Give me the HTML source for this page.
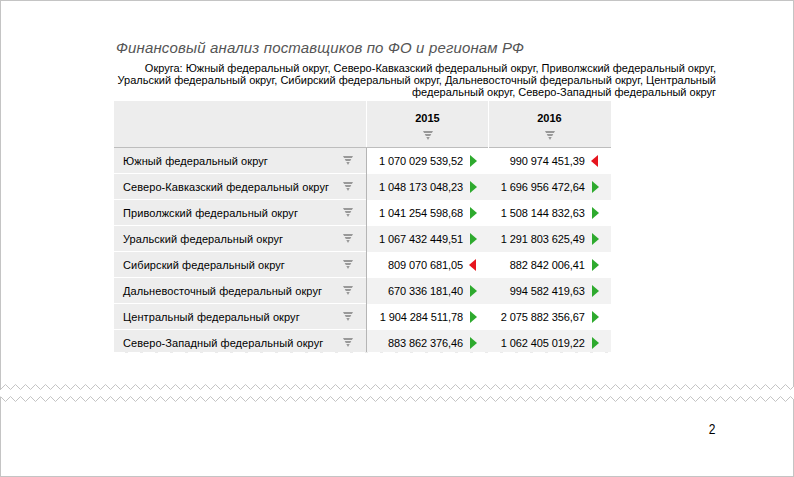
<!DOCTYPE html>
<html><head><meta charset="utf-8">
<style>
*{margin:0;padding:0;box-sizing:border-box}
html,body{width:794px;height:477px;overflow:hidden;background:#fff}
body{position:relative;font-family:"Liberation Sans",sans-serif;color:#000}
.a{position:absolute}
.title{left:116px;top:38.5px;font-size:15px;font-style:italic;color:#555;white-space:nowrap;line-height:17px;letter-spacing:0.15px}
.sub{right:78px;top:62px;font-size:11px;line-height:12px;text-align:right;color:#000;white-space:nowrap}
.tbl{left:114px;top:101px;width:497px;height:251px;overflow:hidden}
.rt{left:9px;font-size:11px;line-height:13px;white-space:nowrap;color:#000;letter-spacing:0.08px}
.num{font-size:11px;line-height:13px;white-space:nowrap;text-align:right;color:#000;letter-spacing:-0.1px}
.yr{font-size:11px;font-weight:bold;line-height:13px;text-align:center;width:121px}
</style></head><body>
<div class="a" style="left:0;top:0;width:794px;height:1px;background:#c4c4c4"></div>
<div class="a" style="left:0;top:476px;width:794px;height:1px;background:#c4c4c4"></div>
<div class="a" style="left:0;top:0;width:1px;height:390px;background:#c4c4c4"></div>
<div class="a" style="left:0;top:397px;width:1px;height:80px;background:#c4c4c4"></div>
<div class="a" style="left:793px;top:0;width:1px;height:387px;background:#c4c4c4"></div>
<div class="a" style="left:793px;top:399px;width:1px;height:78px;background:#c4c4c4"></div>
<svg class="a" style="left:0;top:0" width="794" height="477" viewBox="0 0 794 477">
<polyline fill="none" stroke="#c4c4c4" stroke-width="1" points="0.5,389.5 5.5,384.5 10.5,389.5 15.5,384.5 20.5,389.5 25.5,384.5 30.5,389.5 35.5,384.5 40.5,389.5 45.5,384.5 50.5,389.5 55.5,384.5 60.5,389.5 65.5,384.5 70.5,389.5 75.5,384.5 80.5,389.5 85.5,384.5 90.5,389.5 95.5,384.5 100.5,389.5 105.5,384.5 110.5,389.5 115.5,384.5 120.5,389.5 125.5,384.5 130.5,389.5 135.5,384.5 140.5,389.5 145.5,384.5 150.5,389.5 155.5,384.5 160.5,389.5 165.5,384.5 170.5,389.5 175.5,384.5 180.5,389.5 185.5,384.5 190.5,389.5 195.5,384.5 200.5,389.5 205.5,384.5 210.5,389.5 215.5,384.5 220.5,389.5 225.5,384.5 230.5,389.5 235.5,384.5 240.5,389.5 245.5,384.5 250.5,389.5 255.5,384.5 260.5,389.5 265.5,384.5 270.5,389.5 275.5,384.5 280.5,389.5 285.5,384.5 290.5,389.5 295.5,384.5 300.5,389.5 305.5,384.5 310.5,389.5 315.5,384.5 320.5,389.5 325.5,384.5 330.5,389.5 335.5,384.5 340.5,389.5 345.5,384.5 350.5,389.5 355.5,384.5 360.5,389.5 365.5,384.5 370.5,389.5 375.5,384.5 380.5,389.5 385.5,384.5 390.5,389.5 395.5,384.5 400.5,389.5 405.5,384.5 410.5,389.5 415.5,384.5 420.5,389.5 425.5,384.5 430.5,389.5 435.5,384.5 440.5,389.5 445.5,384.5 450.5,389.5 455.5,384.5 460.5,389.5 465.5,384.5 470.5,389.5 475.5,384.5 480.5,389.5 485.5,384.5 490.5,389.5 495.5,384.5 500.5,389.5 505.5,384.5 510.5,389.5 515.5,384.5 520.5,389.5 525.5,384.5 530.5,389.5 535.5,384.5 540.5,389.5 545.5,384.5 550.5,389.5 555.5,384.5 560.5,389.5 565.5,384.5 570.5,389.5 575.5,384.5 580.5,389.5 585.5,384.5 590.5,389.5 595.5,384.5 600.5,389.5 605.5,384.5 610.5,389.5 615.5,384.5 620.5,389.5 625.5,384.5 630.5,389.5 635.5,384.5 640.5,389.5 645.5,384.5 650.5,389.5 655.5,384.5 660.5,389.5 665.5,384.5 670.5,389.5 675.5,384.5 680.5,389.5 685.5,384.5 690.5,389.5 695.5,384.5 700.5,389.5 705.5,384.5 710.5,389.5 715.5,384.5 720.5,389.5 725.5,384.5 730.5,389.5 735.5,384.5 740.5,389.5 745.5,384.5 750.5,389.5 755.5,384.5 760.5,389.5 765.5,384.5 770.5,389.5 775.5,384.5 780.5,389.5 785.5,384.5 790.5,389.5 795.5,384.5 800.5,389.5"/>
<polyline fill="none" stroke="#c4c4c4" stroke-width="1" points="0.5,396.5 5.5,401.5 10.5,396.5 15.5,401.5 20.5,396.5 25.5,401.5 30.5,396.5 35.5,401.5 40.5,396.5 45.5,401.5 50.5,396.5 55.5,401.5 60.5,396.5 65.5,401.5 70.5,396.5 75.5,401.5 80.5,396.5 85.5,401.5 90.5,396.5 95.5,401.5 100.5,396.5 105.5,401.5 110.5,396.5 115.5,401.5 120.5,396.5 125.5,401.5 130.5,396.5 135.5,401.5 140.5,396.5 145.5,401.5 150.5,396.5 155.5,401.5 160.5,396.5 165.5,401.5 170.5,396.5 175.5,401.5 180.5,396.5 185.5,401.5 190.5,396.5 195.5,401.5 200.5,396.5 205.5,401.5 210.5,396.5 215.5,401.5 220.5,396.5 225.5,401.5 230.5,396.5 235.5,401.5 240.5,396.5 245.5,401.5 250.5,396.5 255.5,401.5 260.5,396.5 265.5,401.5 270.5,396.5 275.5,401.5 280.5,396.5 285.5,401.5 290.5,396.5 295.5,401.5 300.5,396.5 305.5,401.5 310.5,396.5 315.5,401.5 320.5,396.5 325.5,401.5 330.5,396.5 335.5,401.5 340.5,396.5 345.5,401.5 350.5,396.5 355.5,401.5 360.5,396.5 365.5,401.5 370.5,396.5 375.5,401.5 380.5,396.5 385.5,401.5 390.5,396.5 395.5,401.5 400.5,396.5 405.5,401.5 410.5,396.5 415.5,401.5 420.5,396.5 425.5,401.5 430.5,396.5 435.5,401.5 440.5,396.5 445.5,401.5 450.5,396.5 455.5,401.5 460.5,396.5 465.5,401.5 470.5,396.5 475.5,401.5 480.5,396.5 485.5,401.5 490.5,396.5 495.5,401.5 500.5,396.5 505.5,401.5 510.5,396.5 515.5,401.5 520.5,396.5 525.5,401.5 530.5,396.5 535.5,401.5 540.5,396.5 545.5,401.5 550.5,396.5 555.5,401.5 560.5,396.5 565.5,401.5 570.5,396.5 575.5,401.5 580.5,396.5 585.5,401.5 590.5,396.5 595.5,401.5 600.5,396.5 605.5,401.5 610.5,396.5 615.5,401.5 620.5,396.5 625.5,401.5 630.5,396.5 635.5,401.5 640.5,396.5 645.5,401.5 650.5,396.5 655.5,401.5 660.5,396.5 665.5,401.5 670.5,396.5 675.5,401.5 680.5,396.5 685.5,401.5 690.5,396.5 695.5,401.5 700.5,396.5 705.5,401.5 710.5,396.5 715.5,401.5 720.5,396.5 725.5,401.5 730.5,396.5 735.5,401.5 740.5,396.5 745.5,401.5 750.5,396.5 755.5,401.5 760.5,396.5 765.5,401.5 770.5,396.5 775.5,401.5 780.5,396.5 785.5,401.5 790.5,396.5 795.5,401.5 800.5,396.5"/>
</svg>
<div class="a title">Финансовый анализ поставщиков по ФО и регионам РФ</div>
<div class="a sub">Округа: Южный федеральный округ, Северо-Кавказский федеральный округ, Приволжский федеральный округ,<br>Уральский федеральный округ, Сибирский федеральный округ, Дальневосточный федеральный округ, Центральный<br>федеральный округ, Северо-Западный федеральный округ</div>
<div class="a tbl">
<div class="a" style="left:0;top:0;width:497px;height:46px;background:#ededed"></div>
<div class="a" style="left:0;top:46px;width:497px;height:1px;background:#bdbdbd"></div>
<div class="a" style="left:252px;top:0;width:1px;height:46px;background:#fff"></div>
<div class="a" style="left:374px;top:0;width:1px;height:47px;background:#fff"></div>
<div class="a yr" style="left:253px;top:11px">2015</div>
<div class="a yr" style="left:375px;top:11px">2016</div>
<svg class="a" style="left:309px;top:30px" width="10" height="9" viewBox="0 0 10 9"><path fill="#999999" d="M0 0H10L8.9 2H1.1Z M1.7 3H8.3L7.2 5H2.8Z M3.3 6H6.7L5 9Z"/></svg>
<svg class="a" style="left:431px;top:30px" width="10" height="9" viewBox="0 0 10 9"><path fill="#999999" d="M0 0H10L8.9 2H1.1Z M1.7 3H8.3L7.2 5H2.8Z M3.3 6H6.7L5 9Z"/></svg>
<div class="a" style="left:0;top:47px;width:252px;height:210px;background:#ededed"></div>
<div class="a" style="left:252px;top:47px;width:1px;height:210px;background:#b5b5b5"></div>

<div class="a rt" style="top:54px">Южный федеральный округ</div>
<svg class="a" style="left:229px;top:55px" width="10" height="9" viewBox="0 0 10 9"><path fill="#999999" d="M0 0H10L8.9 2H1.1Z M1.7 3H8.3L7.2 5H2.8Z M3.3 6H6.7L5 9Z"/></svg>
<div class="a num" style="right:148px;top:54px">1 070 029 539,52</div>
<svg class="a" style="left:355px;top:54px" width="8" height="12" viewBox="0 0 8 12"><path fill="#2eaa2e" d="M1 0L8 6L1 12Z"/></svg>
<div class="a num" style="right:26.3px;top:54px">990 974 451,39</div>
<svg class="a" style="left:477px;top:54px" width="8" height="12" viewBox="0 0 8 12"><path fill="#e6151e" d="M7 0L0 6L7 12Z"/></svg>
<div class="a" style="left:253px;top:73px;width:244px;height:26px;background:#f2f2f2"></div>
<div class="a" style="left:0;top:72px;width:252px;height:1px;background:#fff"></div>
<div class="a rt" style="top:80px">Северо-Кавказский федеральный округ</div>
<svg class="a" style="left:229px;top:81px" width="10" height="9" viewBox="0 0 10 9"><path fill="#999999" d="M0 0H10L8.9 2H1.1Z M1.7 3H8.3L7.2 5H2.8Z M3.3 6H6.7L5 9Z"/></svg>
<div class="a num" style="right:148px;top:80px">1 048 173 048,23</div>
<svg class="a" style="left:355px;top:80px" width="8" height="12" viewBox="0 0 8 12"><path fill="#2eaa2e" d="M1 0L8 6L1 12Z"/></svg>
<div class="a num" style="right:26.3px;top:80px">1 696 956 472,64</div>
<svg class="a" style="left:477px;top:80px" width="8" height="12" viewBox="0 0 8 12"><path fill="#2eaa2e" d="M1 0L8 6L1 12Z"/></svg>
<div class="a" style="left:0;top:98px;width:252px;height:1px;background:#fff"></div>
<div class="a rt" style="top:106px">Приволжский федеральный округ</div>
<svg class="a" style="left:229px;top:107px" width="10" height="9" viewBox="0 0 10 9"><path fill="#999999" d="M0 0H10L8.9 2H1.1Z M1.7 3H8.3L7.2 5H2.8Z M3.3 6H6.7L5 9Z"/></svg>
<div class="a num" style="right:148px;top:106px">1 041 254 598,68</div>
<svg class="a" style="left:355px;top:106px" width="8" height="12" viewBox="0 0 8 12"><path fill="#2eaa2e" d="M1 0L8 6L1 12Z"/></svg>
<div class="a num" style="right:26.3px;top:106px">1 508 144 832,63</div>
<svg class="a" style="left:477px;top:106px" width="8" height="12" viewBox="0 0 8 12"><path fill="#2eaa2e" d="M1 0L8 6L1 12Z"/></svg>
<div class="a" style="left:253px;top:125px;width:244px;height:26px;background:#f2f2f2"></div>
<div class="a" style="left:0;top:124px;width:252px;height:1px;background:#fff"></div>
<div class="a rt" style="top:132px">Уральский федеральный округ</div>
<svg class="a" style="left:229px;top:133px" width="10" height="9" viewBox="0 0 10 9"><path fill="#999999" d="M0 0H10L8.9 2H1.1Z M1.7 3H8.3L7.2 5H2.8Z M3.3 6H6.7L5 9Z"/></svg>
<div class="a num" style="right:148px;top:132px">1 067 432 449,51</div>
<svg class="a" style="left:355px;top:132px" width="8" height="12" viewBox="0 0 8 12"><path fill="#2eaa2e" d="M1 0L8 6L1 12Z"/></svg>
<div class="a num" style="right:26.3px;top:132px">1 291 803 625,49</div>
<svg class="a" style="left:477px;top:132px" width="8" height="12" viewBox="0 0 8 12"><path fill="#2eaa2e" d="M1 0L8 6L1 12Z"/></svg>
<div class="a" style="left:0;top:150px;width:252px;height:1px;background:#fff"></div>
<div class="a rt" style="top:158px">Сибирский федеральный округ</div>
<svg class="a" style="left:229px;top:159px" width="10" height="9" viewBox="0 0 10 9"><path fill="#999999" d="M0 0H10L8.9 2H1.1Z M1.7 3H8.3L7.2 5H2.8Z M3.3 6H6.7L5 9Z"/></svg>
<div class="a num" style="right:148px;top:158px">809 070 681,05</div>
<svg class="a" style="left:355px;top:158px" width="8" height="12" viewBox="0 0 8 12"><path fill="#e6151e" d="M7 0L0 6L7 12Z"/></svg>
<div class="a num" style="right:26.3px;top:158px">882 842 006,41</div>
<svg class="a" style="left:477px;top:158px" width="8" height="12" viewBox="0 0 8 12"><path fill="#2eaa2e" d="M1 0L8 6L1 12Z"/></svg>
<div class="a" style="left:253px;top:177px;width:244px;height:26px;background:#f2f2f2"></div>
<div class="a" style="left:0;top:176px;width:252px;height:1px;background:#fff"></div>
<div class="a rt" style="top:184px">Дальневосточный федеральный округ</div>
<svg class="a" style="left:229px;top:185px" width="10" height="9" viewBox="0 0 10 9"><path fill="#999999" d="M0 0H10L8.9 2H1.1Z M1.7 3H8.3L7.2 5H2.8Z M3.3 6H6.7L5 9Z"/></svg>
<div class="a num" style="right:148px;top:184px">670 336 181,40</div>
<svg class="a" style="left:355px;top:184px" width="8" height="12" viewBox="0 0 8 12"><path fill="#2eaa2e" d="M1 0L8 6L1 12Z"/></svg>
<div class="a num" style="right:26.3px;top:184px">994 582 419,63</div>
<svg class="a" style="left:477px;top:184px" width="8" height="12" viewBox="0 0 8 12"><path fill="#2eaa2e" d="M1 0L8 6L1 12Z"/></svg>
<div class="a" style="left:0;top:202px;width:252px;height:1px;background:#fff"></div>
<div class="a rt" style="top:210px">Центральный федеральный округ</div>
<svg class="a" style="left:229px;top:211px" width="10" height="9" viewBox="0 0 10 9"><path fill="#999999" d="M0 0H10L8.9 2H1.1Z M1.7 3H8.3L7.2 5H2.8Z M3.3 6H6.7L5 9Z"/></svg>
<div class="a num" style="right:148px;top:210px">1 904 284 511,78</div>
<svg class="a" style="left:355px;top:210px" width="8" height="12" viewBox="0 0 8 12"><path fill="#2eaa2e" d="M1 0L8 6L1 12Z"/></svg>
<div class="a num" style="right:26.3px;top:210px">2 075 882 356,67</div>
<svg class="a" style="left:477px;top:210px" width="8" height="12" viewBox="0 0 8 12"><path fill="#2eaa2e" d="M1 0L8 6L1 12Z"/></svg>
<div class="a" style="left:253px;top:229px;width:244px;height:26px;background:#f2f2f2"></div>
<div class="a" style="left:0;top:228px;width:252px;height:1px;background:#fff"></div>
<div class="a rt" style="top:236px">Северо-Западный федеральный округ</div>
<svg class="a" style="left:229px;top:237px" width="10" height="9" viewBox="0 0 10 9"><path fill="#999999" d="M0 0H10L8.9 2H1.1Z M1.7 3H8.3L7.2 5H2.8Z M3.3 6H6.7L5 9Z"/></svg>
<div class="a num" style="right:148px;top:236px">883 862 376,46</div>
<svg class="a" style="left:355px;top:236px" width="8" height="12" viewBox="0 0 8 12"><path fill="#2eaa2e" d="M1 0L8 6L1 12Z"/></svg>
<div class="a num" style="right:26.3px;top:236px">1 062 405 019,22</div>
<svg class="a" style="left:477px;top:236px" width="8" height="12" viewBox="0 0 8 12"><path fill="#2eaa2e" d="M1 0L8 6L1 12Z"/></svg>
</div>
<div class="a" style="left:114px;top:352px;width:497px;height:1px;background:repeating-linear-gradient(90deg,transparent 0,transparent 11px,#ebebeb 11px,#ebebeb 14px,transparent 14px,transparent 15px)"></div>
<div class="a" style="left:708px;top:420px;width:8px;text-align:center;font-size:15px;line-height:17px;transform:scaleX(0.8);transform-origin:50% 50%">2</div>
</body></html>
